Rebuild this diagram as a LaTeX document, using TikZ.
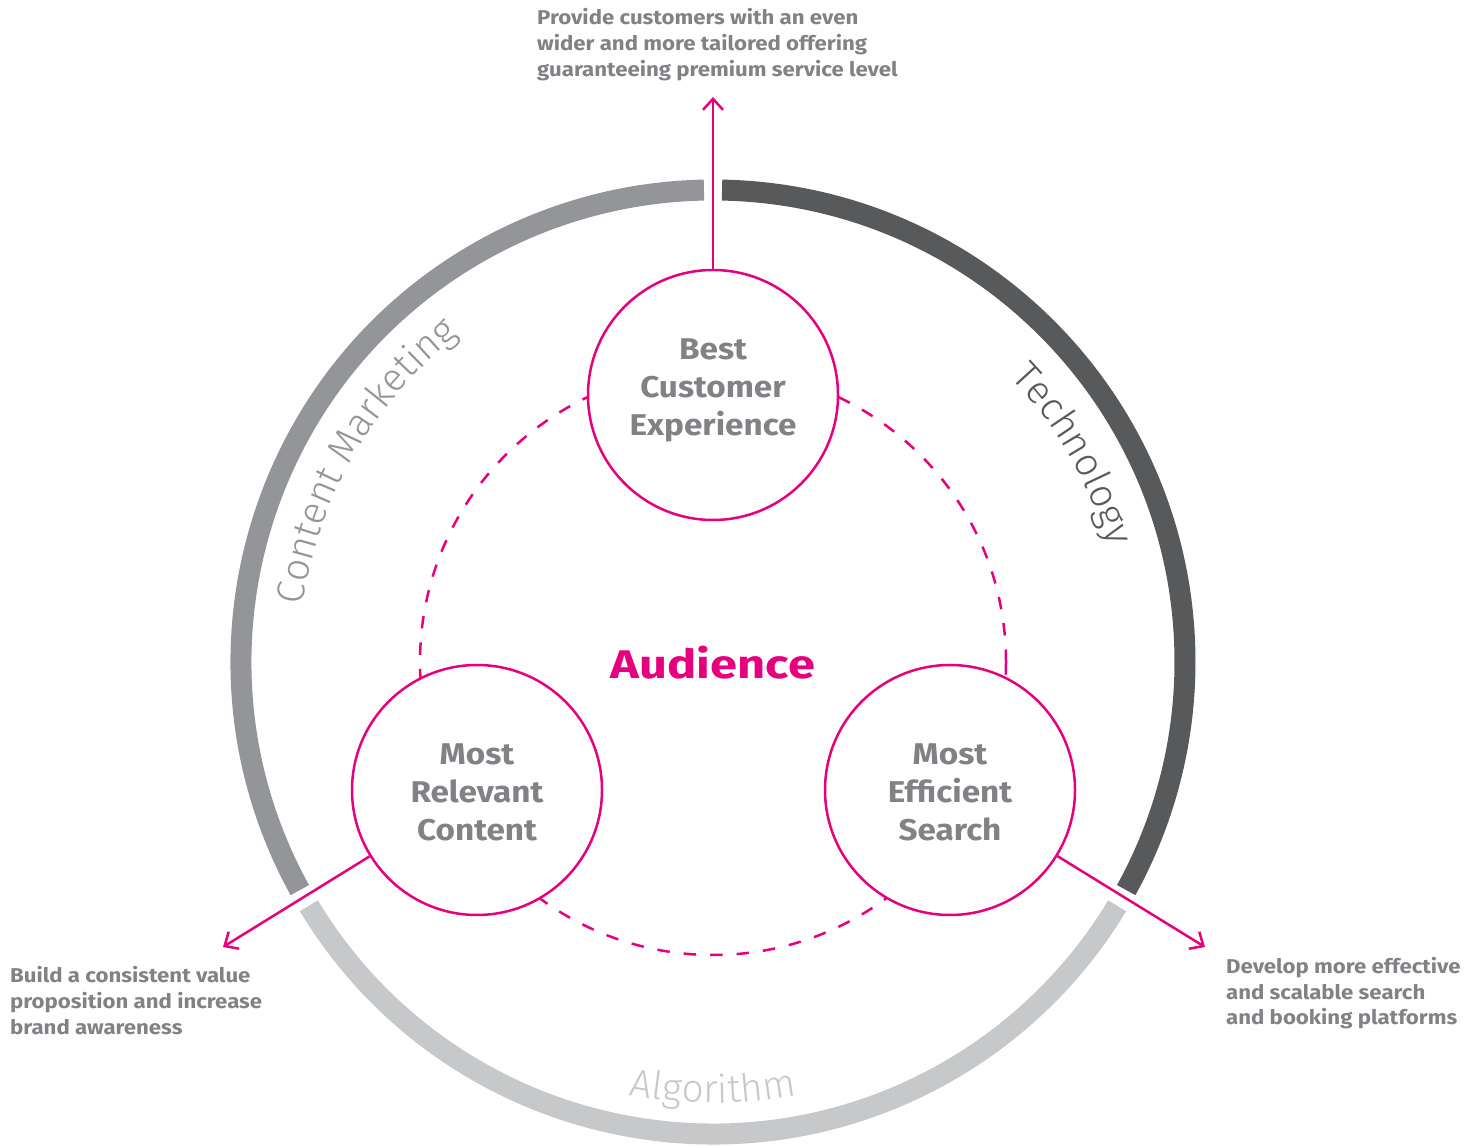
\documentclass[tikz,border=0pt]{standalone}
\usepackage{fontspec}
\setmainfont{Fira Sans}
\IfFontExistsTF{Fira Sans Light}
  {\newfontfamily\lightfont{Fira Sans Light}}
  {\newfontfamily\lightfont{Fira Sans}}
\newfontfamily\widefont{Fira Sans}[FakeStretch=1.11]
\newfontfamily\audfont{Fira Sans}[FakeStretch=1.22]
\usetikzlibrary{arrows.meta,decorations.text}

\definecolor{magenta}{HTML}{E6007E}
\definecolor{txtgray}{HTML}{808285}
\definecolor{cmgray}{HTML}{939598}
\definecolor{techgray}{HTML}{58595B}
\definecolor{algogray}{HTML}{C7C8CA}

\newcommand\arcfont{\lightfont\fontsize{39}{39}\selectfont}

\begin{document}
\begin{tikzpicture}[x=1pt,y=1pt,
  ring/.style={line width=21pt},
  bubble/.style={circle, draw=magenta, line width=2.5pt, fill=white,
    minimum size=250pt, inner sep=0pt},
  bubtxt/.style={font=\widefont\bfseries\fontsize{30}{38}\selectfont, text=txtgray,
    align=center, inner sep=0pt},
  note/.style={font=\widefont\bfseries\fontsize{20}{26}\selectfont, text=txtgray,
    align=left, inner sep=0pt, anchor=base west},
  outarrow/.style={draw=magenta, line width=2.5pt,
    -{Straight Barb[length=11pt,width=20pt]}},
  dashring/.style={draw=magenta, line width=2.5pt, dash pattern=on 12.5pt off 14pt},
]
\useasboundingbox (0,0) rectangle (1481,1146);
\coordinate (O) at (713,484);

% outer ring in three segments
\draw[ring, cmgray]   (O) ++(208.9:472) arc[start angle=208.9, end angle=91.1,  radius=472];
\draw[ring, techgray] (O) ++(88.9:472)  arc[start angle=88.9,  end angle=-28.9, radius=472];
\draw[ring, algogray] (O) ++(211.1:472) arc[start angle=211.1, end angle=328.9, radius=472];

% ring labels
\path[decorate, decoration={text along path, text align=center, text color=cmgray,
  text={|\arcfont|Content Marketing}}]
  (O) ++(200:414) arc[start angle=200, end angle=100, radius=414];
\path[decorate, decoration={text along path, text align=center, text color=techgray,
  text={|\arcfont|Technology}}]
  (O) ++(80:412) arc[start angle=80, end angle=-20, radius=412];
\path[decorate, decoration={text along path, text align=center, text color=algogray,
  text={|\arcfont|Algorithm}}]
  (O) ++(220:441) arc[start angle=220, end angle=320, radius=441];

% dashed inner circle
\draw[dashring] (O) circle[radius=293];

% three pillars
\node[bubble] (best) at (713,751) {};
\node[bubble] (rel)  at (477,356) {};
\node[bubble] (eff)  at (950,356) {};

\node[bubtxt] (bestlbl) at ([yshift=4.6pt]best.center) {\strut Best\\\strut Customer\\\strut Experience};
\node[bubtxt] (rellbl)  at ([yshift=-5.4pt]rel.center) {\strut Most\\\strut Relevant\\\strut Content};
\node[bubtxt] (efflbl)  at ([yshift=-5.4pt]eff.center) {\strut Most\\\strut Efficient\\\strut Search};

\node[font=\audfont\bfseries\fontsize{40}{40}\selectfont, text=magenta, inner sep=0pt,
  anchor=base] (aud) at (713,467) {Audience};

% outgoing arrows
\coordinate (tipT) at (713,1049);
\coordinate (tipL) at (223,199);
\coordinate (tipR) at (1205,199);
\draw[outarrow] (best) -- (tipT);
\draw[outarrow] (rel) -- (tipL);
\draw[outarrow] (eff) -- (tipR);

% notes (anchored on the baseline of their last line)
\node[note] (noteT) at (537,1069)
  {Provide customers with an even\\wider and more tailored offering\\guaranteeing premium service level};
\node[note] (noteL) at (10,111)
  {Build a consistent value\\proposition and increase\\brand awareness};
\node[note, font=\widefont\bfseries\fontsize{20}{25.5}\selectfont] (noteR) at (1226,121)
  {Develop more effective\\and scalable search\\and booking platforms};
\end{tikzpicture}
\end{document}
